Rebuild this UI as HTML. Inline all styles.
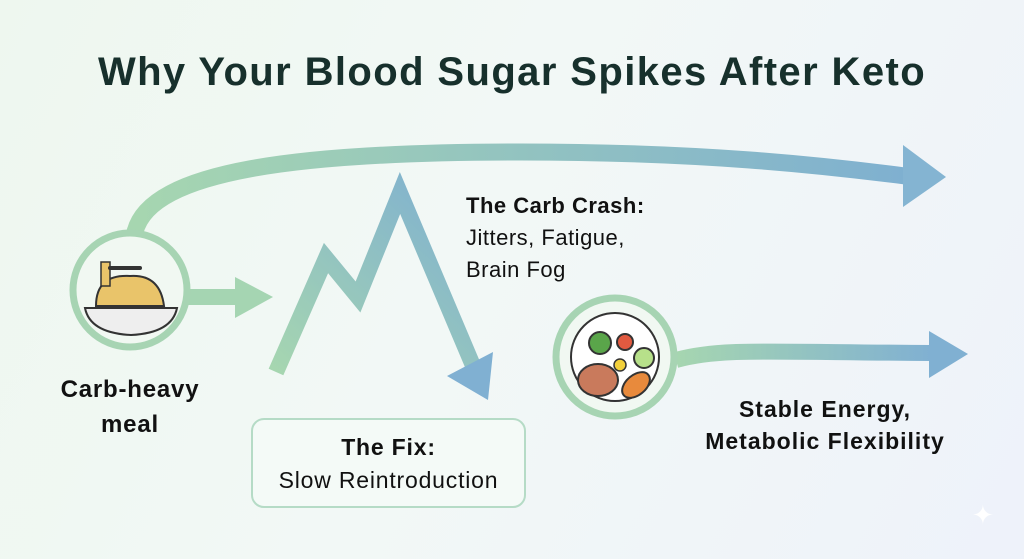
<!DOCTYPE html>
<html><head><meta charset="utf-8"><style>
html,body{margin:0;padding:0}
body{width:1024px;height:559px;overflow:hidden;font-family:"Liberation Sans",sans-serif;background:linear-gradient(115deg,#eef7ef 0%,#f2f8f6 45%,#eef2fa 100%);position:relative}
.t{position:absolute;color:#111;white-space:nowrap}
</style></head><body>
<svg width="1024" height="559" style="position:absolute;left:0;top:0">
<defs>
<linearGradient id="g1" x1="0" x2="1" y1="0" y2="0"><stop offset="0" stop-color="#a6d6b0"/><stop offset="1" stop-color="#7fb0d0"/></linearGradient>
<linearGradient id="g2" x1="0" x2="1" y1="1" y2="0"><stop offset="0" stop-color="#a6d6b0"/><stop offset="1" stop-color="#7fb0d0"/></linearGradient>
<linearGradient id="g3" x1="0" x2="1"><stop offset="0" stop-color="#a6d6b0"/><stop offset="1" stop-color="#80b0d2"/></linearGradient>
</defs>
<path d="M135,232 C150,170 300,152 520,152 C700,152 820,165 905,176" fill="none" stroke="url(#g1)" stroke-width="17"/>
<polygon points="903,145 946,177 903,207" fill="#84b4d2"/>
<path d="M188,297 L238,297" stroke="#a5d5b2" stroke-width="16"/>
<polygon points="235,277 273,297 235,318" fill="#a5d5b2"/>
<polyline points="276,372 326,258 358,297 400,193 474,368" fill="none" stroke="url(#g2)" stroke-width="16" stroke-linejoin="miter"/>
<polygon points="447,376 493,352 488,400" fill="#80b0d2"/>
<path d="M676,360 C720,348 760,352 932,353" fill="none" stroke="url(#g3)" stroke-width="16"/>
<polygon points="929,331 968,354 929,378" fill="#80b0d2"/>
<circle cx="130" cy="290" r="57" fill="#f1f8f2" stroke="#a7d4b3" stroke-width="7"/>
<g>
<path d="M96,306 q0,-32 34,-30 q30,-2 34,30z" fill="#e9c46a" stroke="#333" stroke-width="2"/>
<path d="M85,308 h92 q-5,25 -46,27 q-41,-2 -46,-27z" fill="#eee" stroke="#333" stroke-width="2"/>
<rect x="101" y="262" width="9" height="24" fill="#e9c46a" stroke="#333" stroke-width="1.5"/>
<path d="M110,268 h30" stroke="#333" stroke-width="4" stroke-linecap="round"/>
</g>
<circle cx="615" cy="357" r="59" fill="#f1f8f2" stroke="#a7d4b3" stroke-width="7"/>
<circle cx="615" cy="357" r="44" fill="#fff" stroke="#333" stroke-width="2"/>
<ellipse cx="598" cy="380" rx="20" ry="16" fill="#c97a5c" stroke="#333" stroke-width="2"/>
<ellipse cx="636" cy="385" rx="16" ry="10" fill="#e88a3c" stroke="#333" stroke-width="2" transform="rotate(-40 636 385)"/>
<circle cx="600" cy="343" r="11" fill="#5aa54a" stroke="#333" stroke-width="2"/>
<circle cx="625" cy="342" r="8" fill="#e15a40" stroke="#333" stroke-width="2"/>
<circle cx="644" cy="358" r="10" fill="#b7e08a" stroke="#333" stroke-width="2"/>
<circle cx="620" cy="365" r="6" fill="#f2d03b" stroke="#333" stroke-width="1.5"/>
<rect x="252" y="419" width="273" height="88" rx="12" fill="#f4faf7" stroke="#b5dbc6" stroke-width="2"/>
</svg>
<div class="t" style="left:0;width:1024px;text-align:center;top:50px;font-size:40px;letter-spacing:1.4px;font-weight:bold;color:#17302c">Why Your Blood Sugar Spikes After Keto</div>
<div class="t" style="left:466px;top:190px;font-size:22px;letter-spacing:0.5px;line-height:32px"><b>The Carb Crash:</b><br>Jitters, Fatigue,<br>Brain Fog</div>
<div class="t" style="left:30px;width:200px;text-align:center;top:372px;font-size:24px;letter-spacing:0.8px;line-height:35px;font-weight:bold">Carb-heavy<br>meal</div>
<div class="t" style="left:252px;width:273px;text-align:center;top:431px;font-size:23px;letter-spacing:0.8px;line-height:33px"><b>The Fix:</b><br>Slow Reintroduction</div>
<div class="t" style="left:680px;width:290px;text-align:center;top:393px;font-size:23px;letter-spacing:1px;line-height:32px;font-weight:bold">Stable Energy,<br>Metabolic Flexibility</div>
<div class="t" style="left:972px;top:500px;font-size:26px;color:#fff">✦</div>
</body></html>
